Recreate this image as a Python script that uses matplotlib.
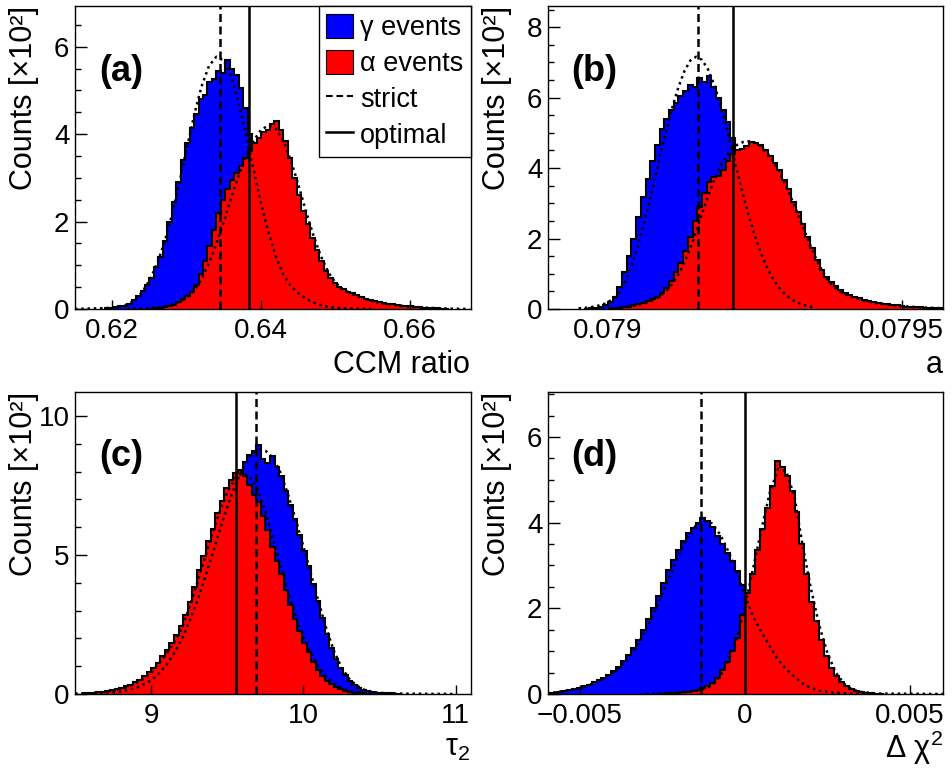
#!/usr/bin/env python3
"""
Four-panel gamma / alpha discrimination histograms (ROOT-style look).
(a) CCM ratio, (b) a, (c) tau_2, (d) delta chi^2 ; strict and optimal cuts.
"""
import numpy as np
import matplotlib
matplotlib.use("Agg")
import matplotlib.pyplot as plt
from matplotlib.patches import Patch
from matplotlib.lines import Line2D

# ---------------- data (counts in units of 10^2) ----------------
# (a) CCM ratio
a_bin = 0.0006
a_gam_start = 0.6190
a_gamma = [0.02, 0.03, 0.04, 0.06, 0.08, 0.12, 0.2, 0.3, 0.42, 0.55,
           0.72, 0.95, 1.2, 1.55, 1.98, 2.45, 2.9, 3.4, 3.8, 4.15,
           4.45, 4.8, 4.9, 5.2, 5.25, 5.45, 5.4, 5.7, 5.5, 5.35,
           5.05, 4.6, 4.0, 3.5, 3.0, 2.5, 2.0, 1.6, 1.25, 0.95,
           0.72, 0.52, 0.38, 0.27, 0.18, 0.12, 0.08, 0.05, 0.03, 0.02]
a_alp_start = 0.6250
a_alpha = [0.01, 0.02, 0.03, 0.05, 0.07, 0.1, 0.15, 0.22, 0.3, 0.4,
           0.56, 0.8, 1.1, 1.45, 1.8, 2.2, 2.5, 2.75, 2.95, 3.1,
           3.28, 3.45, 3.62, 3.8, 3.92, 4.05, 4.1, 4.22, 4.3, 4.1,
           3.85, 3.45, 3.0, 2.6, 2.25, 1.95, 1.62, 1.35, 1.1, 0.88,
           0.72, 0.6, 0.5, 0.45, 0.4, 0.36, 0.32, 0.28, 0.24, 0.2,
           0.18, 0.16, 0.14, 0.12, 0.11, 0.09, 0.08, 0.07, 0.06, 0.05,
           0.04, 0.03, 0.03, 0.02, 0.02, 0.01, 0.01]
a_fit_gam_x = [0.615, 0.617, 0.619, 0.620, 0.621, 0.622, 0.623, 0.624, 0.625, 0.626,
               0.627, 0.628, 0.629, 0.630, 0.631, 0.632, 0.633, 0.634, 0.635, 0.636,
               0.637, 0.638, 0.639, 0.640, 0.641, 0.642, 0.643, 0.644, 0.645, 0.646,
               0.647, 0.648, 0.649, 0.650, 0.651, 0.655]
a_fit_gam = [0.0, 0.01, 0.02, 0.03, 0.06, 0.1, 0.2, 0.38, 0.65, 1.02,
             1.51, 2.14, 2.87, 3.66, 4.43, 5.09, 5.56, 5.77, 5.68, 5.31,
             4.71, 3.97, 3.18, 2.42, 1.75, 1.2, 0.78, 0.52, 0.36, 0.24,
             0.15, 0.09, 0.05, 0.03, 0.01, 0.0]
a_fit_alp_x = [0.622, 0.626, 0.627, 0.628, 0.629, 0.630, 0.631, 0.632, 0.633, 0.634,
               0.635, 0.636, 0.637, 0.638, 0.639, 0.640, 0.641, 0.642, 0.643, 0.644,
               0.645, 0.646, 0.647, 0.648, 0.649, 0.650, 0.651, 0.652, 0.653, 0.654,
               0.655, 0.656, 0.658, 0.660, 0.662, 0.665, 0.668]
a_fit_alp = [0.0, 0.03, 0.06, 0.1, 0.16, 0.25, 0.42, 0.68, 1.05, 1.5,
             2.0, 2.55, 3.05, 3.5, 3.85, 4.1, 4.2, 4.12, 3.85, 3.4,
             2.85, 2.25, 1.7, 1.22, 0.85, 0.6, 0.45, 0.36, 0.29, 0.23,
             0.18, 0.14, 0.09, 0.05, 0.03, 0.01, 0.0]
a_strict, a_optimal = 0.63454, 0.63839

# (b) a
b_bin = 0.000008
b_gam_start = 0.07896
b_gamma = [0.01, 0.02, 0.03, 0.05, 0.1, 0.2, 0.35, 0.62, 1.05, 1.5,
           2.0, 2.6, 3.18, 3.7, 4.2, 4.65, 5.1, 5.4, 5.65, 5.85,
           6.05, 6.2, 6.35, 6.3, 6.55, 6.45, 6.6, 6.3, 6.0, 5.65,
           5.3, 4.85, 4.45, 3.9, 3.3, 2.7, 2.1, 1.6, 1.2, 0.85,
           0.6, 0.4, 0.25, 0.15, 0.09, 0.05, 0.03]
b_alp_start = 0.07900
b_alpha = [0.01, 0.02, 0.03, 0.05, 0.07, 0.1, 0.13, 0.17, 0.22, 0.28,
           0.35, 0.45, 0.6, 0.8, 1.05, 1.3, 1.65, 2.05, 2.5, 2.9,
           3.3, 3.6, 3.75, 3.78, 3.95, 4.2, 4.4, 4.52, 4.55, 4.62,
           4.75, 4.7, 4.65, 4.5, 4.35, 4.15, 3.95, 3.65, 3.4, 3.05,
           2.75, 2.4, 2.05, 1.72, 1.4, 1.12, 0.92, 0.78, 0.65, 0.55,
           0.46, 0.4, 0.34, 0.3, 0.26, 0.22, 0.2, 0.18, 0.15, 0.13,
           0.11, 0.1, 0.08, 0.07, 0.06, 0.05, 0.05, 0.04, 0.03, 0.03, 0.02]
b_fit_gam_x = [0.07895, 0.07896, 0.07897, 0.07898, 0.07899, 0.07900, 0.07901, 0.07902,
               0.07903, 0.07904, 0.07905, 0.07906, 0.07907, 0.07908, 0.07909, 0.07910,
               0.07911, 0.07912, 0.07913, 0.07914, 0.07915, 0.07916, 0.07917, 0.07918,
               0.07919, 0.07920, 0.07921, 0.07922, 0.07923, 0.07924, 0.07925, 0.07926,
               0.07927, 0.07928, 0.07929, 0.07930, 0.07931, 0.07932, 0.07933, 0.07934,
               0.07935]
b_fit_gam = [0.02, 0.03, 0.05, 0.08, 0.12, 0.19, 0.3, 0.48, 0.78, 1.2,
             1.75, 2.35, 3.0, 3.7, 4.45, 5.1, 5.75, 6.3, 6.75, 7.05,
             7.16, 7.07, 6.81, 6.40, 5.87, 5.25, 4.58, 3.90, 3.24, 2.62,
             2.07, 1.60, 1.20, 0.88, 0.63, 0.44, 0.30, 0.20, 0.13, 0.08, 0.05]
b_fit_alp_x = [0.07900, 0.07901, 0.07902, 0.07903, 0.07904, 0.07905, 0.07906, 0.07907,
               0.07908, 0.07909, 0.07910, 0.07911, 0.07912, 0.07913, 0.07914, 0.07915,
               0.07916, 0.07917, 0.07918, 0.07919, 0.07920, 0.07921, 0.07922, 0.07923,
               0.07924, 0.07925, 0.07926, 0.07927, 0.07928, 0.07929, 0.07930, 0.07931,
               0.07932, 0.07933, 0.07934, 0.07935, 0.07936, 0.07937, 0.07938, 0.07939,
               0.07940, 0.07941, 0.07942, 0.07943, 0.07944, 0.07945, 0.07946, 0.07947,
               0.07948, 0.07950, 0.07952, 0.07954, 0.07957]
b_fit_alp = [0.01, 0.02, 0.04, 0.06, 0.08, 0.11, 0.15, 0.2, 0.28, 0.38,
             0.52, 0.72, 0.98, 1.32, 1.72, 2.2, 2.7, 3.18, 3.62, 4.0,
             4.3, 4.52, 4.66, 4.74, 4.76, 4.72, 4.62, 4.45, 4.22, 3.94,
             3.6, 3.22, 2.82, 2.4, 1.98, 1.58, 1.22, 0.92, 0.7, 0.55,
             0.44, 0.37, 0.31, 0.26, 0.22, 0.19, 0.16, 0.14, 0.12,
             0.08, 0.06, 0.04, 0.02]
b_strict, b_optimal = 0.0791525, 0.079213

# (c) tau_2
c_bin = 0.03
c_gam_start = 8.70
c_gamma = [0.03, 0.04, 0.06, 0.08, 0.12, 0.16, 0.21, 0.28, 0.36, 0.45,
           0.57, 0.72, 0.9, 1.1, 1.35, 1.62, 1.95, 2.3, 2.7, 3.1,
           3.55, 4.05, 4.6, 5.1, 5.65, 6.15, 6.65, 7.1, 7.5, 7.95,
           8.35, 8.6, 8.75, 8.95, 8.45, 8.3, 8.55, 8.15, 7.85, 7.3,
           6.8, 6.3, 5.7, 5.15, 4.6, 3.95, 3.35, 2.75, 2.15, 1.65,
           1.25, 0.92, 0.68, 0.48, 0.33, 0.22, 0.14, 0.09, 0.06, 0.04,
           0.03, 0.02, 0.02, 0.01, 0.01]
c_alp_start = 8.55
c_alpha = [0.02, 0.03, 0.04, 0.06, 0.08, 0.12, 0.15, 0.19, 0.23, 0.28,
           0.34, 0.42, 0.52, 0.63, 0.78, 0.95, 1.12, 1.35, 1.58, 1.82,
           2.12, 2.45, 2.85, 3.3, 3.85, 4.45, 4.95, 5.5, 5.95, 6.5,
           6.95, 7.4, 7.7, 7.95, 8.05, 7.85, 7.5, 7.15, 6.9, 6.4,
           5.9, 5.3, 4.8, 4.3, 3.75, 3.2, 2.7, 2.25, 1.85, 1.5,
           1.15, 0.88, 0.65, 0.48, 0.35, 0.25, 0.17, 0.11, 0.07, 0.05,
           0.03, 0.02]
c_fit_gam_x = [8.5, 8.6, 8.7, 8.8, 8.9, 9.0, 9.05, 9.1, 9.15, 9.2,
               9.25, 9.3, 9.35, 9.4, 9.45, 9.5, 9.55, 9.6, 9.65, 9.7,
               9.75, 9.8, 9.85, 9.9, 9.95, 10.0, 10.05, 10.1, 10.15, 10.2,
               10.25, 10.3, 10.35, 10.4, 10.45, 10.5, 10.6, 10.7, 10.85, 11.0]
c_fit_gam = [0.0, 0.01, 0.03, 0.08, 0.21, 0.49, 0.73, 1.04, 1.45, 1.96,
             2.58, 3.3, 4.12, 4.98, 5.87, 6.72, 7.49, 8.12, 8.56, 8.78,
             8.75, 8.5, 7.95, 7.15, 6.25, 5.3, 4.3, 3.3, 2.35, 1.55,
             0.95, 0.55, 0.3, 0.15, 0.08, 0.04, 0.02, 0.01, 0.005, 0.0]
c_fit_alp_x = [8.5, 8.6, 8.7, 8.8, 8.9, 9.0, 9.05, 9.1, 9.15, 9.2,
               9.25, 9.3, 9.35, 9.4, 9.45, 9.5, 9.55, 9.6, 9.65, 9.7,
               9.75, 9.8, 9.85, 9.9, 9.95, 10.0, 10.05, 10.1, 10.15, 10.2,
               10.25, 10.3, 10.4, 10.5]
c_fit_alp = [0.01, 0.03, 0.07, 0.17, 0.38, 0.75, 1.1, 1.45, 1.85, 2.35,
             3.1, 3.95, 4.85, 5.75, 6.55, 7.25, 7.75, 7.95, 7.8, 7.35,
             6.55, 5.6, 4.6, 3.65, 2.8, 2.05, 1.45, 0.98, 0.62, 0.38,
             0.22, 0.12, 0.03, 0.01]
c_strict, c_optimal = 9.689, 9.555

# (d) delta chi^2
d_bin = 0.00015
d_gam_start = -0.0060
d_gamma = [0.02, 0.03, 0.05, 0.07, 0.09, 0.11, 0.14, 0.18, 0.22, 0.27,
           0.33, 0.38, 0.45, 0.53, 0.63, 0.76, 0.92, 1.08, 1.27, 1.5,
           1.74, 2.0, 2.28, 2.6, 2.9, 3.12, 3.35, 3.58, 3.75, 3.88,
           4.0, 4.1, 4.05, 3.9, 3.68, 3.5, 3.3, 3.1, 2.88, 2.55,
           2.15, 1.8, 1.5, 1.25, 1.0, 0.8, 0.62, 0.47, 0.35, 0.25,
           0.17, 0.11, 0.07, 0.04, 0.02]
d_alp_start = -0.0027
d_alpha = [0.01, 0.01, 0.02, 0.02, 0.03, 0.04, 0.05, 0.07, 0.09, 0.13,
           0.18, 0.26, 0.38, 0.55, 0.75, 1.0, 1.3, 1.85, 2.35, 2.8,
           3.35, 3.85, 4.35, 4.85, 5.45, 5.3, 5.1, 4.75, 4.25, 3.5,
           2.8, 2.15, 1.7, 1.25, 0.88, 0.6, 0.42, 0.28, 0.18, 0.11,
           0.07, 0.04, 0.03, 0.02, 0.01, 0.01]
d_fit_gam_x = [-0.006, -0.00575, -0.0055, -0.00525, -0.005, -0.00475, -0.0045, -0.00425,
               -0.004, -0.00375, -0.0035, -0.00325, -0.003, -0.00275, -0.0025, -0.00225,
               -0.002, -0.00175, -0.0015, -0.00125, -0.001, -0.00075, -0.0005, -0.00025,
               0.0, 0.00025, 0.0005, 0.00075, 0.001, 0.00125, 0.0015, 0.00175,
               0.002, 0.00225, 0.0025, 0.00275, 0.003, 0.00325, 0.0035]
d_fit_gam = [0.02, 0.04, 0.07, 0.1, 0.14, 0.2, 0.28, 0.38,
             0.5, 0.66, 0.88, 1.16, 1.5, 1.9, 2.35, 2.8,
             3.25, 3.65, 3.92, 4.05, 3.98, 3.72, 3.32, 2.85,
             2.3, 1.8, 1.45, 1.12, 0.8, 0.58, 0.4, 0.24,
             0.14, 0.08, 0.05, 0.03, 0.02, 0.01, 0.0]
d_fit_alp_x = [-0.003, -0.0025, -0.002, -0.0015, -0.00125, -0.001, -0.00075, -0.0005,
               -0.00025, 0.0, 0.00025, 0.0005, 0.00075, 0.001, 0.00125, 0.0015,
               0.00175, 0.002, 0.00225, 0.0025, 0.00275, 0.003, 0.00325, 0.0035,
               0.004, 0.005, 0.006]
d_fit_alp = [0.0, 0.01, 0.03, 0.07, 0.12, 0.2, 0.42, 0.78,
             1.3, 2.05, 2.95, 3.85, 4.7, 5.25, 5.2, 4.6,
             3.45, 2.45, 1.6, 0.95, 0.5, 0.24, 0.11, 0.05,
             0.01, 0.005, 0.0]
d_strict, d_optimal = -0.00134, 0.0

# ---------------- style ----------------
plt.rcParams["font.family"] = ["Liberation Sans", "DejaVu Sans"]
plt.rcParams["mathtext.fontset"] = "custom"
plt.rcParams["mathtext.rm"] = "Liberation Sans"
plt.rcParams["mathtext.it"] = "Liberation Sans:italic"

GAMMA_C = "#0000ff"
ALPHA_C = "#ff0000"
DOTTED = (0, (1, 1.5))
DASHED = (0, (3.2, 1.8))

W, H = 953, 771


def draw_hist(ax, start, width, counts, color):
    counts = np.asarray(counts, dtype=float)
    edges = start + width * np.arange(len(counts) + 1)
    ax.stairs(counts, edges, fill=True, color=color, lw=0)
    ax.stairs(counts, edges, color="k", lw=1.5)


def panel(ax, gam, alp, fits, strict, optimal, xlim, ylim, xticks, xlabels,
          yticks, yminor, letter):
    draw_hist(ax, *gam, GAMMA_C)
    draw_hist(ax, *alp, ALPHA_C)
    for fx, fy in fits:
        ax.plot(fx, fy, color="k", lw=1.8, ls=DOTTED)
    ax.axvline(strict, color="k", lw=1.8, ls=DASHED)
    ax.axvline(optimal, color="k", lw=1.8)
    ax.set_xlim(*xlim)
    ax.set_ylim(*ylim)
    ax.set_xticks(xticks, xlabels)
    ax.set_yticks(yticks, [str(t) for t in yticks])
    ax.set_yticks(yminor, minor=True)
    ax.tick_params(axis="both", which="both", direction="in", top=False,
                   right=False, labelsize=20, width=1)
    ax.tick_params(axis="y", which="major", length=8.5, pad=4)
    ax.tick_params(axis="y", which="minor", length=4.5)
    ax.tick_params(axis="x", which="major", length=6.5, pad=6.5)
    for s in ax.spines.values():
        s.set_linewidth(1.0)
    ax.text(0.116, 0.785, letter, transform=ax.transAxes, fontsize=26,
            fontweight="bold", ha="center", va="center")


fig = plt.figure(figsize=(W / 100, H / 100), dpi=100)


def box(l, t, r, b):
    return [l / W, 1 - b / H, (r - l) / W, (b - t) / H]


ax_a = fig.add_axes(box(75, 6, 471, 309))
ax_b = fig.add_axes(box(548, 6, 943, 309))
ax_c = fig.add_axes(box(75, 392, 471, 694))
ax_d = fig.add_axes(box(548, 392, 943, 694))

panel(ax_a, (a_gam_start, a_bin, a_gamma), (a_alp_start, a_bin, a_alpha),
      [(a_fit_gam_x, a_fit_gam), (a_fit_alp_x, a_fit_alp)],
      a_strict, a_optimal, (0.615, 0.6682), (0, 6.93),
      [0.62, 0.64, 0.66], ["0.62", "0.64", "0.66"],
      [0, 2, 4, 6], np.arange(0, 7.0, 0.5), "(a)")
panel(ax_b, (b_gam_start, b_bin, b_gamma), (b_alp_start, b_bin, b_alpha),
      [(b_fit_gam_x, b_fit_gam), (b_fit_alp_x, b_fit_alp)],
      b_strict, b_optimal, (0.078898, 0.07957), (0, 8.6),
      [0.079, 0.0795], ["0.079", "0.0795"],
      [0, 2, 4, 6, 8], np.arange(0, 8.6, 0.5), "(b)")
panel(ax_c, (c_gam_start, c_bin, c_gamma), (c_alp_start, c_bin, c_alpha),
      [(c_fit_gam_x, c_fit_gam), (c_fit_alp_x, c_fit_alp)],
      c_strict, c_optimal, (8.5, 11.1), (0, 10.86),
      [9, 10, 11], ["9", "10", "11"],
      [0, 5, 10], np.arange(0, 11, 1.0), "(c)")
panel(ax_d, (d_gam_start, d_bin, d_gamma), (d_alp_start, d_bin, d_alpha),
      [(d_fit_gam_x, d_fit_gam), (d_fit_alp_x, d_fit_alp)],
      d_strict, d_optimal, (-0.00597, 0.006), (0, 7.05),
      [-0.005, 0.0, 0.005], ["\u22120.005", "0", "0.005"],
      [0, 2, 4, 6], np.arange(0, 7.1, 0.5), "(d)")

# axis titles, ROOT-like placement (right/top aligned)
ylab = "Counts [\u00d710\u00b2]"
for x, y in [(24, 6), (497, 6), (24, 392), (497, 392)]:
    fig.text(x / W, 1 - y / H, ylab, rotation=90, ha="center", va="top", fontsize=22)
fig.text(470 / W, 1 - 365 / H, "CCM ratio", ha="right", va="center", fontsize=22)
fig.text(943 / W, 1 - 365 / H, "a", ha="right", va="center", fontsize=22)
fig.text(470 / W, 1 - 748 / H, r"$\mathrm{\tau_2}$", ha="right", va="center", fontsize=22)
fig.text(943 / W, 1 - 748 / H, r"$\mathrm{\Delta\ \chi^2}$", ha="right", va="center", fontsize=22)

# legend in panel (a)
handles = [Patch(facecolor=GAMMA_C, edgecolor="k", lw=0.8),
           Patch(facecolor=ALPHA_C, edgecolor="k", lw=0.8),
           Line2D([], [], color="k", lw=1.5, ls=DASHED),
           Line2D([], [], color="k", lw=1.8)]
labels = ["\u03b3 events", "\u03b1 events", "strict", "optimal"]
leg = ax_a.legend(handles, labels, loc="upper right", bbox_to_anchor=(1.0, 1.0),
                  fontsize=19.5, frameon=True, fancybox=False, framealpha=1,
                  edgecolor="k", borderaxespad=0, handlelength=1.0,
                  handleheight=1.0, handletextpad=0.25, labelspacing=0.32,
                  borderpad=0.28)
leg.get_frame().set_linewidth(1.0)

fig.savefig("out.png", dpi=100)
